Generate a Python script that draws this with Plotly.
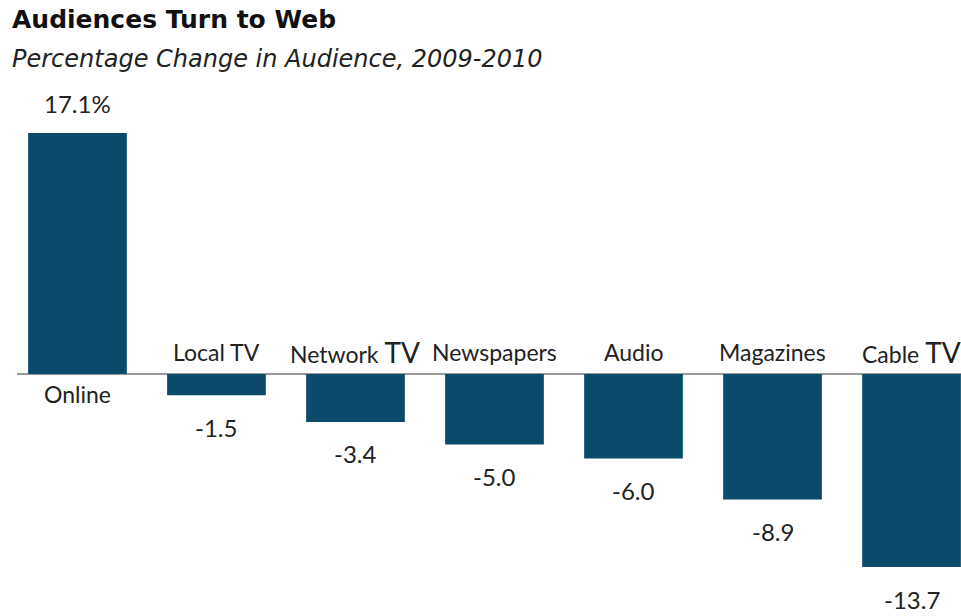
import plotly.graph_objects as go

categories = ["Online", "Local TV", "Network TV", "Newspapers", "Audio", "Magazines", "Cable TV"]
display_names = ["Online", "Local TV", "Network <span style='font-size:28px'>TV</span>", "Newspapers",
                 "Audio", "Magazines", "Cable <span style='font-size:28px'>TV</span>"]
values = [17.1, -1.5, -3.4, -5.0, -6.0, -8.9, -13.7]
value_labels = ["17.1%", "-1.5", "-3.4", "-5.0", "-6.0", "-8.9", "-13.7"]

W, H = 961, 616
BAR = "#0b4a6b"
TXT = "#222222"
LABEL_FONT = "Lato, 'Open Sans', sans-serif"
PLOT_L = 17  # left edge of plot area in px

fig = go.Figure()
fig.add_trace(go.Bar(
    x=list(range(len(categories))), y=values,
    marker=dict(color=BAR, line=dict(width=0)),
    width=0.71, hoverinfo="skip", showlegend=False,
))

annotations = []
for i, (name, v, vl) in enumerate(zip(display_names, values, value_labels)):
    pos = v >= 0
    annotations.append(dict(
        x=i, y=0, xref="x", yref="y", text=name, showarrow=False,
        yshift=-20 if pos else 22,
        font=dict(family=LABEL_FONT, size=23, color=TXT),
    ))
    annotations.append(dict(
        x=i, y=v, xref="x", yref="y", text=vl, showarrow=False,
        yshift=30 if pos else -32,
        font=dict(family=LABEL_FONT, size=24, color=TXT),
    ))

def px_x(px):
    return (px - PLOT_L) / (W - PLOT_L)

annotations.append(dict(
    x=px_x(10), y=1 - 20 / H, xref="paper", yref="paper", xanchor="left", yanchor="middle",
    text="<b>Audiences Turn to Web</b>", showarrow=False,
    font=dict(family="DejaVu Sans, sans-serif", size=25, color="#111111"),
))
annotations.append(dict(
    x=px_x(10), y=1 - 59 / H, xref="paper", yref="paper", xanchor="left", yanchor="middle",
    text="<i>Percentage Change in Audience, 2009-2010</i>", showarrow=False,
    font=dict(family="DejaVu Sans, sans-serif", size=24, color="#222222"),
))

fig.update_layout(
    width=W, height=H,
    margin=dict(l=PLOT_L, r=0, t=0, b=0),
    paper_bgcolor="white", plot_bgcolor="white",
    bargap=0.29,
    xaxis=dict(range=[-0.435, 6.356], showticklabels=False, showgrid=False,
               zeroline=False, showline=False, fixedrange=True),
    yaxis=dict(range=[-17.17, 26.54], showticklabels=False, showgrid=False,
               zeroline=True, zerolinecolor="#9a9a9a", zerolinewidth=2,
               showline=False, fixedrange=True),
    annotations=annotations,
)

fig.write_html(
    "out.html",
    config={"displayModeBar": False},
    post_script="document.body.style.margin='0';document.body.style.overflow='hidden';",
)
